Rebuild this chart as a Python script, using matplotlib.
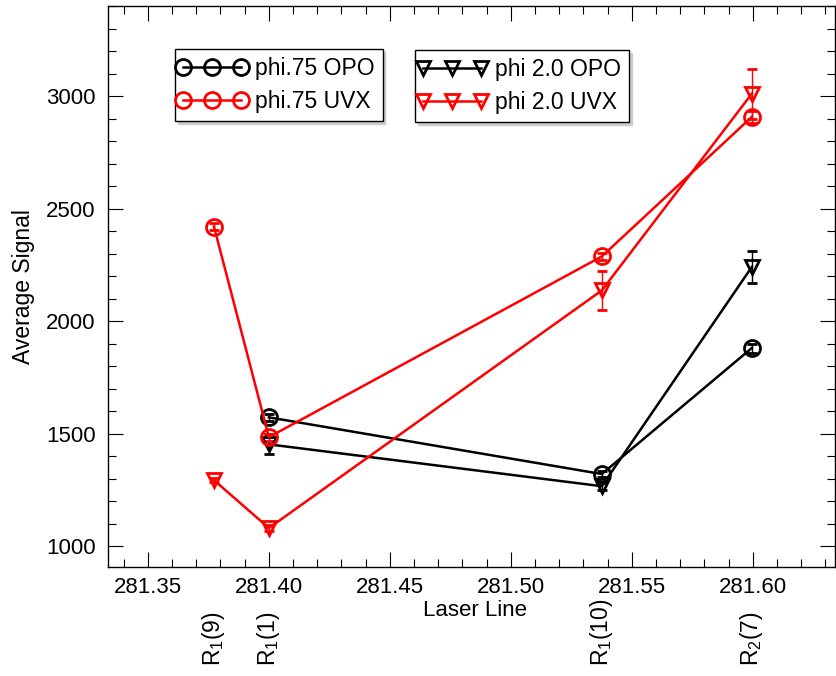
import matplotlib
matplotlib.use("Agg")
import matplotlib.pyplot as plt
import matplotlib.transforms as mtransforms
from matplotlib.legend_handler import HandlerLine2D
from matplotlib.ticker import MultipleLocator, FormatStrFormatter

plt.rcParams['font.family'] = ['Liberation Sans', 'DejaVu Sans']
plt.rcParams['mathtext.fontset'] = 'custom'
plt.rcParams['mathtext.rm'] = 'Liberation Sans'
plt.rcParams['mathtext.default'] = 'regular'

# Laser line positions (nm)
x_all = [281.3773, 281.40, 281.5376, 281.5996]
x_opo = [281.40, 281.5376, 281.5996]

# phi .75
phi75_opo = [1572, 1320, 1880]
phi75_opo_err = [15, 15, 20]
phi75_uvx = [2420, 1484, 2287, 2907]
phi75_uvx_err = [15, 15, 15, 25]

# phi 2.0
phi2_opo = [1452, 1266, 2240]
phi2_opo_err = [45, 15, 70]
phi2_uvx = [1293, 1080, 2136, 3010]
phi2_uvx_err = [10, 15, 85, 110]

# line assignments shown under the axis
line_pos = [281.3773, 281.40, 281.5376, 281.5996]
line_names = [r'R$_1$(9)', r'R$_1$(1)', r'R$_1$(10)', r'R$_2$(7)']

fig = plt.figure(figsize=(8.36, 6.76), dpi=100)
ax = fig.add_axes([108/836, 1 - 567/676, 727/836, 561/676])

common = dict(lw=1.8, mew=2.0, mfc='none', elinewidth=1.0,
              capsize=3.6, capthick=1.0)

h1 = ax.errorbar(x_opo, phi75_opo, yerr=phi75_opo_err, color='black', marker='o', ms=11.5, **common)
h3 = ax.errorbar(x_opo, phi2_opo, yerr=phi2_opo_err, color='black', marker='v', ms=9.5, **common)
h2 = ax.errorbar(x_all, phi75_uvx, yerr=phi75_uvx_err, color='red', marker='o', ms=11.5, **common)
h4 = ax.errorbar(x_all, phi2_uvx, yerr=phi2_uvx_err, color='red', marker='v', ms=9.5, **common)

ax.set_xlim(281.3335, 281.634)
ax.set_ylim(907, 3400)
ax.xaxis.set_major_locator(MultipleLocator(0.05))
ax.xaxis.set_minor_locator(MultipleLocator(0.01))
ax.yaxis.set_major_locator(MultipleLocator(500))
ax.yaxis.set_minor_locator(MultipleLocator(100))
ax.xaxis.set_major_formatter(FormatStrFormatter('%.2f'))

ax.tick_params(which='both', direction='in', top=True, right=True, width=0.8,
               labelsize=16)
ax.tick_params(which='major', length=10.8)
ax.tick_params(which='minor', length=5.5)
ax.tick_params(axis='y', pad=9)
ax.tick_params(axis='x', pad=7)
for s in ax.spines.values():
    s.set_linewidth(1.0)

ax.set_xlabel('Laser Line', fontsize=16)
ax.set_ylabel('Average Signal', fontsize=16.5)
ax.xaxis.set_label_coords(0.505, -0.058)
ax.yaxis.set_label_coords(-0.10, 0.5)

# two legend boxes, markers reaching the ends of the handle
hmap = {h[0]: HandlerLine2D(marker_pad=0.0) for h in (h1, h2, h3, h4)}
leg_kw = dict(loc='upper left', numpoints=3, handlelength=2.5, fontsize=16.5,
              frameon=True, fancybox=False, edgecolor='black',
              shadow={'color': '0.8', 'alpha': 1.0},
              framealpha=1, borderaxespad=0, handletextpad=0.6,
              borderpad=0.37, labelspacing=0.4, handler_map=hmap,
              bbox_transform=fig.transFigure)
leg1 = ax.legend([h1[0], h2[0]], ['phi.75 OPO', 'phi.75 UVX'],
                 bbox_to_anchor=(175/836, 1 - 49/676), **leg_kw)
leg1.get_frame().set_linewidth(1.0)
ax.add_artist(leg1)
leg2 = ax.legend([h3[0], h4[0]], ['phi 2.0 OPO', 'phi 2.0 UVX'],
                 bbox_to_anchor=(415/836, 1 - 50/676), **leg_kw)
leg2.get_frame().set_linewidth(1.0)

trans = mtransforms.blended_transform_factory(ax.transData, fig.transFigure)
for xp, name in zip(line_pos, line_names):
    ax.text(xp, 1 - 666/676, name, rotation=90, ha='center', va='bottom',
            fontsize=16.5, transform=trans)

fig.savefig('out.png', dpi=100)
